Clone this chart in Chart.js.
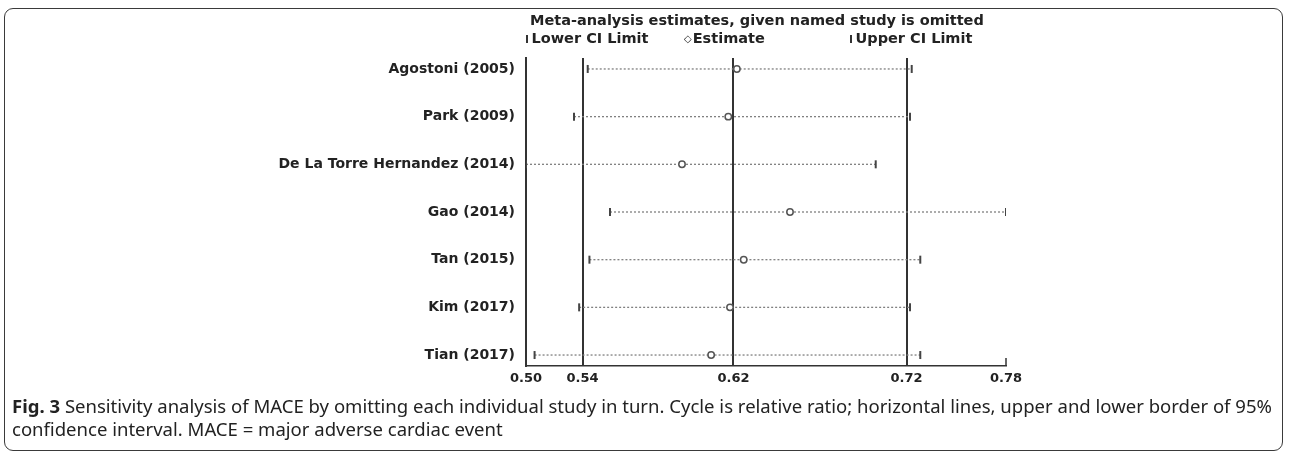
<!DOCTYPE html>
<html>
<head>
<meta charset="utf-8">
<script src="https://cdn.jsdelivr.net/npm/chart.js@4"></script>
<style>
  html, body { margin: 0; padding: 0; background: #fff; }
  body { width: 1290px; height: 455px; position: relative; overflow: hidden; }
  #frame {
    position: absolute; left: 4px; top: 8px; width: 1279px; height: 443px;
    border: 1.5px solid #3a3a3a; border-radius: 9px; box-sizing: border-box;
  }
  #wrap { position: absolute; left: 0; top: 0; width: 1290px; height: 400px; }
  .hdr { position: absolute; font-family: "DejaVu Sans", sans-serif; font-weight: bold; color: #222; white-space: nowrap; line-height: 16px; }
  #title { left: 530px; top: 12px; font-size: 14.5px; }
  .key { top: 30px; font-size: 14.5px; }
  .bar { display: inline-block; width: 1.5px; height: 8px; background: #333; margin-right: 4px; vertical-align: 0px; }
  .dia { font-size: 10px; font-weight: normal; margin-right: 1px; vertical-align: 1px; }
  #caption {
    position: absolute; left: 12px; top: 394px; font-family: "Noto Sans", sans-serif;
    font-size: 15px; line-height: 23px; color: #222; white-space: nowrap;
  }
  #caption b { font-weight: bold; }
</style>
</head>
<body>
<div id="frame"></div>
<div id="wrap"><canvas id="chart" width="1290" height="400"></canvas></div>
<div class="hdr" id="title">Meta-analysis estimates, given named study is omitted</div>
<div class="hdr key" style="left:526px"><span class="bar"></span>Lower CI Limit</div>
<div class="hdr key" style="left:684px"><span class="dia">◇</span>Estimate</div>
<div class="hdr key" style="left:850px"><span class="bar"></span>Upper CI Limit</div>
<div id="caption"><span id="line1"><b>Fig. 3</b> Sensitivity analysis of MACE by omitting each individual study in turn. Cycle is relative ratio; horizontal lines, upper and lower border of 95%</span><br>confidence interval. MACE = major adverse cardiac event</div>
<script>
/* Studies, top to bottom */
var studies = [
  'Agostoni (2005)',
  'Park (2009)',
  'De La Torre Hernandez (2014)',
  'Gao (2014)',
  'Tan (2015)',
  'Kim (2017)',
  'Tian (2017)'
];

/* Values */
var lowerCI  = [0.536, 0.528, 0.500, 0.549, 0.537, 0.531, 0.505];
var estimate = [0.623, 0.618, 0.591, 0.654, 0.627, 0.619, 0.608];
var upperCI  = [0.725, 0.724, 0.704, 0.780, 0.730, 0.724, 0.730];

/* Overall pooled lower limit, estimate, upper limit (vertical lines) */
var overall = [0.533, 0.621, 0.722];

/* Axis ticks */
var tickValues = [0.50, 0.533, 0.621, 0.722, 0.78];
var tickLabels = ['0.50', '0.54', '0.62', '0.72', '0.78'];

var X_MIN = 0.50, X_MAX = 0.78;
var AXIS_COLOUR = '#333';
var DOT_COLOUR = '#808080';
var FONT = "'DejaVu Sans', sans-serif";

/* fit caption first line to the reference width */
(function() {
  var cap = document.getElementById('caption');
  var line = document.getElementById('line1');
  var size = 15;
  for (var k = 0; k < 40; k++) {
    var w = line.getBoundingClientRect().width;
    if (Math.abs(w - 1261) < 2) break;
    size = size * 1261 / w;
    cap.style.fontSize = size + 'px';
  }
})();

/* dotted CI lines, one dataset per study */
var datasets = studies.map(function(s, i) {
  return {
    type: 'line',
    label: s,
    data: [{ x: lowerCI[i], y: i }, { x: upperCI[i], y: i }],
    borderColor: DOT_COLOUR,
    borderWidth: 1.3,
    borderDash: [2, 2],
    pointRadius: 0,
    order: 3
  };
});

datasets.push({
  type: 'scatter',
  label: 'Lower CI Limit',
  data: lowerCI.map(function(v, i) { return { x: v, y: i }; }),
  pointStyle: 'line',
  rotation: 90,
  pointRadius: 4,
  borderWidth: 2,
  borderColor: '#444',
  order: 1
});
datasets.push({
  type: 'scatter',
  label: 'Upper CI Limit',
  data: upperCI.map(function(v, i) { return { x: v, y: i }; }),
  pointStyle: 'line',
  rotation: 90,
  pointRadius: 4,
  borderWidth: 2,
  borderColor: '#444',
  order: 1
});
datasets.push({
  type: 'scatter',
  label: 'Estimate',
  data: estimate.map(function(v, i) { return { x: v, y: i }; }),
  pointStyle: 'circle',
  pointRadius: 3.2,
  borderWidth: 1.5,
  borderColor: '#555',
  backgroundColor: '#fff',
  order: 0
});

/* vertical reference lines and the end tick on the axis */
var refLinePlugin = {
  id: 'refLines',
  beforeDatasetsDraw: function(chart) {
    var ctx = chart.ctx;
    var area = chart.chartArea;
    var xs = chart.scales.x;
    ctx.save();
    ctx.strokeStyle = AXIS_COLOUR;
    ctx.lineWidth = 2;
    overall.forEach(function(v) {
      var x = Math.round(xs.getPixelForValue(v));
      ctx.beginPath();
      ctx.moveTo(x, area.top);
      ctx.lineTo(x, area.bottom);
      ctx.stroke();
    });
    var xe = Math.round(xs.getPixelForValue(X_MAX));
    ctx.lineWidth = 1.5;
    ctx.beginPath();
    ctx.moveTo(xe, area.bottom);
    ctx.lineTo(xe, area.bottom - 8);
    ctx.stroke();
    ctx.restore();
  }
};

new Chart(document.getElementById('chart').getContext('2d'), {
  data: { datasets: datasets },
  options: {
    responsive: false,
    animation: false,
    layout: { padding: { top: 58, right: 284, bottom: 0, left: 0 } },
    scales: {
      x: {
        type: 'linear',
        min: X_MIN,
        max: X_MAX,
        afterBuildTicks: function(scale) {
          scale.ticks = tickValues.map(function(v) { return { value: v }; });
        },
        afterFit: function(scale) { scale.height = 34; },
        ticks: {
          autoSkip: false,
          maxRotation: 0,
          padding: 5,
          color: '#222',
          font: { family: FONT, size: 13, weight: 'bold' },
          callback: function(v, i) { return tickLabels[i]; }
        },
        grid: { display: false, drawTicks: false },
        border: { display: true, color: AXIS_COLOUR, width: 1.5 }
      },
      y: {
        type: 'linear',
        reverse: true,
        min: -0.23,
        max: 6.23,
        afterBuildTicks: function(scale) {
          scale.ticks = studies.map(function(s, i) { return { value: i }; });
        },
        afterFit: function(scale) { scale.width = 526; },
        ticks: {
          autoSkip: false,
          padding: 11,
          color: '#222',
          font: { family: FONT, size: 14, weight: 'bold' },
          callback: function(v) { return studies[v]; }
        },
        grid: { display: false, drawTicks: false },
        border: { display: true, color: AXIS_COLOUR, width: 2 }
      }
    },
    plugins: {
      legend: { display: false },
      tooltip: { enabled: false }
    }
  },
  plugins: [refLinePlugin]
});
</script>
</body>
</html>
